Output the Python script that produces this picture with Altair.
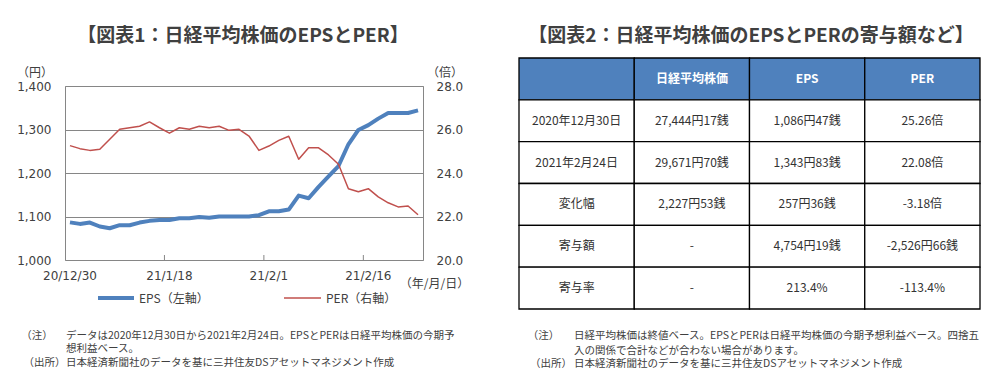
import altair as alt
import pandas as pd

# ---------------- data ----------------
dates = ["20/12/30", "21/1/4", "21/1/5", "21/1/6", "21/1/7", "21/1/8", "21/1/12", "21/1/13", "21/1/14", "21/1/15",
         "21/1/18", "21/1/19", "21/1/20", "21/1/21", "21/1/22", "21/1/25", "21/1/26", "21/1/27", "21/1/28", "21/1/29",
         "21/2/1", "21/2/2", "21/2/3", "21/2/4", "21/2/5", "21/2/8", "21/2/9", "21/2/10", "21/2/12",
         "21/2/15", "21/2/16", "21/2/17", "21/2/18", "21/2/19", "21/2/22", "21/2/24"]
eps = [1086.47, 1083, 1086, 1077, 1073, 1080, 1080, 1086, 1090, 1092,
       1092, 1096, 1096, 1099, 1097, 1100, 1100, 1100, 1100, 1103,
       1112, 1112, 1116, 1148, 1142, 1168, 1192, 1216, 1266,
       1299, 1310, 1325, 1338, 1338, 1338, 1343.83]
per = [25.26, 25.12, 25.04, 25.09, 25.55, 26.01, 26.08, 26.15, 26.35, 26.08,
       25.83, 26.08, 26.01, 26.15, 26.08, 26.15, 25.96, 26.01, 25.70, 25.04,
       25.24, 25.50, 25.69, 24.63, 25.16, 25.16, 24.83, 24.40, 23.28,
       23.14, 23.28, 22.90, 22.63, 22.44, 22.48, 22.08]
eps_ticks = [1000, 1100, 1200, 1300, 1400]
per_ticks = [20, 22, 24, 26, 28]
x_label_dates = [dates[0], dates[10], dates[20], dates[30]]
x_tick_dates = [dates[10], dates[20], dates[30]]

title1 = "【図表1：日経平均株価のEPSとPER】"
title2 = "【図表2：日経平均株価のEPSとPERの寄与額など】"
unit_left = "（円）"
unit_right = "（倍）"
unit_x = "（年/月/日）"
legend_eps = "EPS（左軸）"
legend_per = "PER（右軸）"
note_tag = "（注）"
src_tag = "（出所）"
note1_lines = ["データは2020年12月30日から2021年2月24日。EPSとPERは日経平均株価の今期予",
               "想利益ベース。"]
note2_lines = ["日経平均株価は終値ベース。EPSとPERは日経平均株価の今期予想利益ベース。四捨五",
               "入の関係で合計などが合わない場合があります。"]
source = "日本経済新聞社のデータを基に三井住友DSアセットマネジメント作成"

table_header = ["", "日経平均株価", "EPS", "PER"]
row_names = ["2020年12月30日", "2021年2月24日", "変化幅", "寄与額", "寄与率"]
nikkei_vals = ["27,444円17銭", "29,671円70銭", "2,227円53銭", "-", "-"]
eps_vals = ["1,086円47銭", "1,343円83銭", "257円36銭", "4,754円19銭", "213.4%"]
per_vals = ["25.26倍", "22.08倍", "-3.18倍", "-2,526円66銭", "-113.4%"]

# ---------------- styles ----------------
JP = "Noto Sans CJK JP"
LAT = "DejaVu Sans"
TXT = "#404040"
BLUE = "#4F81BD"
RED = "#C0504D"
GRID = "#868686"
NOTE_SIZE = 10.5

df = pd.DataFrame({"date": dates, "eps": eps, "per": per})
one = pd.DataFrame({"k": [0]})


def label(s, x, y, size=12, weight="normal", color=TXT, align="left", font=JP):
    return alt.Chart(one).mark_text(
        text=s, align=align, baseline="middle", font=font, fontSize=size,
        fontWeight=weight, color=color
    ).encode(x=alt.value(x), y=alt.value(y))


xscale = alt.Scale(type="band", domain=dates, paddingInner=0, paddingOuter=0)
xaxis = alt.Axis(values=x_label_dates, labelAngle=0, ticks=False, domain=False, grid=False,
                 labelPadding=10, labelFont=LAT, labelFontSize=12, labelColor=TXT, title=None)

eps_line = alt.Chart(df).mark_line(color=BLUE, strokeWidth=4, strokeJoin="round").encode(
    x=alt.X("date:O", scale=xscale, axis=xaxis, bandPosition=0.5),
    y=alt.Y("eps:Q", scale=alt.Scale(domain=[1000, 1400], nice=False, zero=False),
            axis=alt.Axis(values=eps_ticks, format=",.0f", grid=True, gridColor=GRID, gridWidth=1,
                          ticks=False, domain=False, labelPadding=14, labelFont=LAT,
                          labelFontSize=12, labelColor=TXT, title=None, orient="left")),
)
per_line = alt.Chart(df).mark_line(color=RED, strokeWidth=1.5, strokeJoin="round").encode(
    x=alt.X("date:O", scale=xscale, axis=xaxis, bandPosition=0.5),
    y=alt.Y("per:Q", scale=alt.Scale(domain=[20, 28], nice=False, zero=False),
            axis=alt.Axis(values=per_ticks, format=".1f", grid=False, ticks=False, domain=False,
                          labelPadding=13, labelFont=LAT, labelFontSize=12, labelColor=TXT,
                          title=None, orient="right")),
)
tick_rules = alt.Chart(pd.DataFrame({"date": x_tick_dates})).mark_rule(color=GRID, strokeWidth=1).encode(
    x=alt.X("date:O", scale=xscale, axis=xaxis, bandPosition=0),
    y=alt.value(169), y2=alt.value(174),
)

pin = alt.Chart(one).mark_rect(opacity=0).encode(
    x=alt.value(-56), x2=alt.value(918), y=alt.value(-77), y2=alt.value(290))

leg_eps = alt.Chart(one).mark_rule(color=BLUE, strokeWidth=4).encode(
    x=alt.value(33), x2=alt.value(69), y=alt.value(212))
leg_per = alt.Chart(one).mark_rule(color=RED, strokeWidth=1.5).encode(
    x=alt.value(219), x2=alt.value(256), y=alt.value(212))

left_layers = [
    pin, eps_line, per_line, tick_rules,
    label(title1, 178, -50, size=19, weight="bold", align="center"),
    label(unit_left, -30, -13, align="center"),
    label(unit_right, 380, -13, align="center"),
    label(unit_x, 369.5, 198, align="center"),
    leg_eps, leg_per,
    label(legend_eps, 74, 213),
    label(legend_per, 261, 213),
    label(note_tag, -28, 250, size=NOTE_SIZE, align="center"),
    label(note1_lines[0], 1, 250, size=NOTE_SIZE),
    label(note1_lines[1], 1, 263.3, size=NOTE_SIZE),
    label(src_tag, -20.5, 277, size=NOTE_SIZE, align="center"),
    label(source, 1, 277, size=NOTE_SIZE),
]
left = alt.layer(*left_layers).resolve_scale(y="independent").properties(
    width=358, height=174, view=alt.ViewBackground(stroke=GRID, strokeWidth=1))

# ---------------- table ----------------
rows = []
columns = [[table_header[0]] + row_names,
           [table_header[1]] + nikkei_vals,
           [table_header[2]] + eps_vals,
           [table_header[3]] + per_vals]
for c, col in enumerate(columns):
    for r, t in enumerate(col):
        rows.append({"c0": c, "c1": c + 1, "cx": c + 0.5, "r0": r, "r1": r + 1, "cy": r + 0.5,
                     "text": t, "kind": "head" if r == 0 else "body"})
cells = pd.DataFrame(rows)

xs = alt.Scale(domain=[0, 4], range=[0, 461], nice=False, zero=False)
ys = alt.Scale(domain=[0, 6], range=[-28, 223], nice=False, zero=False)

rects = alt.Chart(cells).mark_rect(stroke="black", strokeWidth=1.3).encode(
    x=alt.X("c0:Q", scale=xs, axis=None), x2="c1:Q",
    y=alt.Y("r0:Q", scale=ys, axis=None), y2="r1:Q",
    fill=alt.Fill("kind:N", scale=alt.Scale(domain=["head", "body"], range=[BLUE, "white"]), legend=None),
)
head_text = alt.Chart(cells).transform_filter("datum.kind == 'head'").mark_text(
    font=JP, fontSize=12, fontWeight="bold", color="white", baseline="middle").encode(
    x=alt.X("cx:Q", scale=xs, axis=None), y=alt.Y("cy:Q", scale=ys, axis=None), text="text:N")
body_text = alt.Chart(cells).transform_filter("datum.kind == 'body'").mark_text(
    font=JP, fontSize=12, color="#333333", baseline="middle").encode(
    x=alt.X("cx:Q", scale=xs, axis=None), y=alt.Y("cy:Q", scale=ys, axis=None), text="text:N")

right = alt.layer(
    rects, head_text, body_text,
    label(title2, 232, -50, size=19, weight="bold", align="center"),
    label(note_tag, 24.5, 250, size=NOTE_SIZE, align="center"),
    label(note2_lines[0], 55, 250, size=NOTE_SIZE),
    label(note2_lines[1], 55, 264.5, size=NOTE_SIZE),
    label(src_tag, 32, 278, size=NOTE_SIZE, align="center"),
    label(source, 55, 278, size=NOTE_SIZE),
).properties(width=461, height=174, view=alt.ViewBackground(stroke="transparent"))

chart = alt.hconcat(left, right, spacing=96, bounds="flush").properties(
    padding=0, autosize=alt.AutoSizeParams(type="pad")
).configure(background="white")

chart.save("out.html", embed_options={"renderer": "svg", "actions": False})
